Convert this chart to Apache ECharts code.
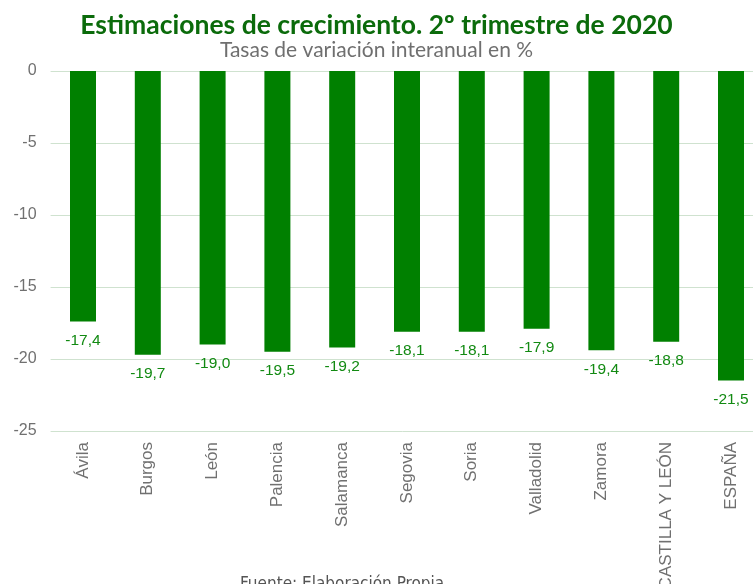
<!DOCTYPE html>
<html><head><meta charset="utf-8">
<script src="https://cdn.jsdelivr.net/npm/echarts@6/dist/echarts.min.js"></script>
<style>html,body{margin:0;padding:0;background:#fff}#c{width:753px;height:584px}</style>
</head><body><div id="c"></div>
<script>
const categories = ['Ávila','Burgos','León','Palencia','Salamanca','Segovia','Soria','Valladolid','Zamora','CASTILLA Y LEÓN','ESPAÑA'];
const values = [-17.4,-19.7,-19.0,-19.5,-19.2,-18.1,-18.1,-17.9,-19.4,-18.8,-21.5];
const yTicks = [0,-5,-10,-15,-20,-25];

const chart = echarts.init(document.getElementById('c'));
chart.setOption({
  animation:false,
  title:[
    {text:'Estimaciones de crecimiento. 2º trimestre de 2020',left:'center',top:7,
     textStyle:{fontFamily:'Lato',fontWeight:'bold',fontSize:26.5,color:'#0b6b0b'}},
    {text:'Tasas de variación interanual en %',left:'center',top:35,
     textStyle:{fontFamily:'Lato',fontWeight:'normal',fontSize:21,color:'#6f6f6f'}}
  ],
  grid:{left:50.6,top:71,width:712.8,bottom:153,containLabel:false,outerBoundsMode:'none'},
  xAxis:{type:'category',data:categories,position:'bottom',
    axisLine:{show:false,onZero:false},axisTick:{show:false},
    axisLabel:{rotate:90,margin:11,color:'#707070',fontSize:17,fontFamily:'Liberation Sans',interval:0}},
  yAxis:{type:'value',min:yTicks[yTicks.length-1],max:yTicks[0],interval:5,
    axisLine:{show:false},axisTick:{show:false},
    axisLabel:{color:'#707070',fontSize:16,fontFamily:'Liberation Sans',margin:14},
    splitLine:{lineStyle:{color:'#cfe2cf',width:1}}},
  series:[{type:'bar',data:values,barWidth:26,
    itemStyle:{color:'#008000'},
    label:{show:true,position:'bottom',distance:11,color:'#128a12',fontSize:15.5,fontFamily:'Liberation Sans',
      formatter:p=>p.value.toFixed(1).replace('.',',')}}],
  graphic:[{type:'text',left:240,top:576,style:{text:'Fuente: Elaboración Propia',fill:'#555',fontSize:17,fontFamily:'DejaVu Sans Condensed'}}]
});
</script></body></html>
